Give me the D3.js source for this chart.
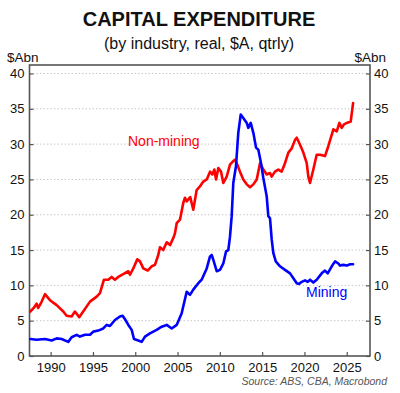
<!DOCTYPE html>
<html>
<head>
<meta charset="utf-8">
<script src="https://cdn.jsdelivr.net/npm/d3@7"></script>
<style>
  html, body { margin: 0; padding: 0; background: #fff; }
  svg { display: block; font-family: "Liberation Sans", Arial, sans-serif; }
</style>
</head>
<body>
<svg id="chart" width="400" height="393"></svg>
<script>
// ---- Data ----
const nonMiningDates = [1987.6, 1988.0, 1988.34, 1988.53, 1988.9, 1989.33, 1989.92, 1990.71, 1991.49, 1991.89, 1992.48, 1992.87, 1993.38, 1993.85, 1994.65, 1995.44, 1995.83, 1996.3, 1996.81, 1997.21, 1997.6, 1997.99, 1998.58, 1999.18, 1999.38, 1999.77, 2000.24, 2000.56, 2000.95, 2001.47, 2001.94, 2002.33, 2002.72, 2002.92, 2003.31, 2003.72, 2004.11, 2004.5, 2004.7, 2004.9, 2005.29, 2005.68, 2005.88, 2006.08, 2006.5, 2006.86, 2007.26, 2007.65, 2008.04, 2008.45, 2008.84, 2009.11, 2009.35, 2009.55, 2009.82, 2010.14, 2010.41, 2010.81, 2011.2, 2011.59, 2011.79, 2012.06, 2012.38, 2012.77, 2013.18, 2013.57, 2013.96, 2014.36, 2014.75, 2015.14, 2015.54, 2015.93, 2016.13, 2016.52, 2016.91, 2017.31, 2017.7, 2018.1, 2018.5, 2018.89, 2019.09, 2019.48, 2019.87, 2020.27, 2020.46, 2020.66, 2021.05, 2021.45, 2021.84, 2022.43, 2022.82, 2023.42, 2023.82, 2024.13, 2024.41, 2024.68, 2025.0, 2025.47, 2025.75];
const nonMiningValues = [6.3, 6.8, 7.4, 6.8, 7.6, 8.75, 7.9, 7.2, 6.3, 5.7, 5.6, 6.3, 5.5, 6.3, 7.7, 8.4, 8.9, 10.8, 10.8, 11.2, 10.8, 11.2, 11.6, 12.0, 11.5, 12.4, 13.7, 13.4, 12.4, 12.1, 12.7, 12.9, 14.3, 15.4, 15.0, 16.1, 15.7, 16.7, 17.4, 18.8, 19.3, 21.7, 22.4, 21.9, 22.5, 20.7, 23.5, 24.0, 24.7, 25.0, 26.1, 25.7, 26.4, 25.0, 26.6, 26.1, 24.5, 25.4, 27.1, 27.6, 27.8, 27.1, 26.1, 25.0, 24.3, 23.9, 24.3, 25.0, 27.3, 26.4, 25.7, 25.9, 25.4, 26.1, 26.4, 26.1, 27.3, 28.8, 29.4, 30.6, 30.9, 29.9, 28.8, 27.3, 25.4, 24.5, 26.4, 28.5, 28.5, 28.3, 29.7, 32.1, 31.8, 33.0, 32.3, 32.8, 33.0, 33.2, 35.8];

const miningDates = [1987.6, 1988.34, 1989.33, 1990.12, 1990.71, 1991.3, 1992.08, 1992.48, 1993.07, 1993.46, 1994.06, 1994.65, 1995.04, 1995.63, 1996.22, 1996.62, 1997.01, 1997.6, 1998.19, 1998.51, 1998.79, 1999.18, 1999.58, 1999.85, 2000.36, 2000.76, 2001.15, 2001.74, 2002.53, 2003.13, 2003.72, 2004.31, 2004.9, 2005.49, 2006.08, 2006.47, 2006.86, 2007.45, 2007.85, 2008.45, 2008.84, 2009.04, 2009.23, 2009.63, 2010.02, 2010.41, 2010.73, 2011.0, 2011.2, 2011.4, 2011.59, 2011.91, 2012.18, 2012.47, 2012.77, 2013.18, 2013.36, 2013.65, 2013.96, 2014.28, 2014.55, 2014.87, 2015.14, 2015.54, 2015.73, 2015.93, 2016.13, 2016.32, 2016.61, 2017.11, 2017.7, 2018.3, 2018.69, 2019.09, 2019.36, 2019.68, 2020.07, 2020.39, 2020.66, 2021.05, 2021.45, 2022.04, 2022.43, 2022.75, 2023.23, 2023.62, 2024.01, 2024.21, 2024.6, 2025.0, 2025.39, 2025.75];
const miningValues = [2.4, 2.3, 2.4, 2.2, 2.5, 2.4, 2.0, 2.65, 3.0, 2.75, 3.0, 3.0, 3.45, 3.6, 3.9, 4.4, 4.25, 5.1, 5.6, 5.7, 5.2, 4.4, 3.7, 2.4, 2.2, 2.0, 2.75, 3.2, 3.7, 4.15, 4.4, 3.9, 4.4, 6.05, 9.1, 8.65, 9.4, 10.3, 10.8, 12.4, 14.1, 14.3, 13.6, 12.0, 12.2, 13.1, 14.8, 15.0, 16.9, 19.8, 24.5, 26.9, 31.6, 34.2, 33.7, 33.0, 32.3, 33.0, 31.6, 29.5, 29.2, 27.3, 25.2, 22.6, 19.8, 19.5, 16.5, 14.6, 13.4, 12.7, 12.2, 11.7, 11.0, 10.3, 10.2, 10.5, 10.7, 10.5, 10.8, 10.4, 10.8, 11.7, 12.1, 11.7, 12.7, 13.4, 13.1, 12.8, 12.9, 12.8, 13.0, 13.0];

const xTickYears = [1990, 1995, 2000, 2005, 2010, 2015, 2020, 2025];
const yTickValues = [0, 5, 10, 15, 20, 25, 30, 35, 40];

const titleText = "CAPITAL EXPENDITURE";
const subtitleText = "(by industry, real, $A, qtrly)";
const unitText = "$Abn";
const sourceText = "Source: ABS, CBA, Macrobond";
const seriesLabels = ["Non-mining", "Mining"];

// ---- Layout ----
const svg = d3.select("#chart");
const pLeft = 29.5, pRight = 370, pTop = 65, pBottom = 356;

const x = d3.scaleLinear().domain([1987.5, 2027.75]).range([pLeft, pRight]);
const y = d3.scaleLinear().domain([0, 41.2]).range([pBottom, pTop]);

const axisColor = "#555";

// Gridlines
svg.append("g").selectAll("line")
  .data(yTickValues.filter(v => v > 0))
  .join("line")
  .attr("x1", pLeft).attr("x2", pRight)
  .attr("y1", d => y(d)).attr("y2", d => y(d))
  .attr("stroke", "#c8c8c8")
  .attr("stroke-width", 1)
  .attr("stroke-dasharray", "1.5,2");

// Axes
const fontTick = "13px";
const yLeft = svg.append("g").attr("transform", `translate(${pLeft},0)`)
  .call(d3.axisLeft(y).tickValues(yTickValues).tickSize(-4).tickPadding(5).tickSizeOuter(0));
const yRight = svg.append("g").attr("transform", `translate(${pRight},0)`)
  .call(d3.axisRight(y).tickValues(yTickValues).tickSize(-4).tickPadding(4).tickSizeOuter(0));
const xAxis = svg.append("g").attr("transform", `translate(0,${pBottom})`)
  .call(d3.axisBottom(x).tickValues(xTickYears).tickFormat(d3.format("d")).tickSize(-4).tickPadding(9).tickSizeOuter(0));

[yLeft, yRight, xAxis].forEach(g => {
  g.select(".domain").remove();
  g.selectAll(".tick line").attr("stroke", axisColor).attr("stroke-width", 1.2);
  g.selectAll(".tick text").attr("fill", "#111").style("font-size", fontTick)
    .style("font-family", '"Liberation Sans", Arial, sans-serif');
});
xAxis.selectAll(".tick text").attr("y", 15.5).attr("dy", "0");

// Frame
svg.append("rect")
  .attr("x", pLeft).attr("y", pTop)
  .attr("width", pRight - pLeft).attr("height", pBottom - pTop)
  .attr("fill", "none").attr("stroke", axisColor).attr("stroke-width", 1.6);

// Lines
const line = d3.line().x(d => x(d[0])).y(d => y(d[1]));
const nonMining = nonMiningDates.map((d, i) => [d, nonMiningValues[i]]);
const mining = miningDates.map((d, i) => [d, miningValues[i]]);

svg.append("path").datum(nonMining)
  .attr("d", line).attr("fill", "none")
  .attr("stroke", "#ff0000").attr("stroke-width", 2.6)
  .attr("stroke-linejoin", "round").attr("stroke-linecap", "round");
svg.append("path").datum(mining)
  .attr("d", line).attr("fill", "none")
  .attr("stroke", "#0000ff").attr("stroke-width", 2.6)
  .attr("stroke-linejoin", "round").attr("stroke-linecap", "round");

// Texts
svg.append("text").attr("x", 199).attr("y", 26).attr("text-anchor", "middle")
  .style("font-size", "20px").style("font-weight", "bold").attr("fill", "#111")
  .text(titleText);
svg.append("text").attr("x", 199).attr("y", 49).attr("text-anchor", "middle")
  .style("font-size", "16px").attr("fill", "#111")
  .text(subtitleText);
svg.append("text").attr("x", 7).attr("y", 62).attr("text-anchor", "start")
  .style("font-size", "13.5px").attr("fill", "#111").text(unitText);
svg.append("text").attr("x", 386).attr("y", 62).attr("text-anchor", "end")
  .style("font-size", "13.5px").attr("fill", "#111").text(unitText);

svg.append("text").attr("x", 128).attr("y", 146)
  .style("font-size", "14px").attr("fill", "#ff0000").text(seriesLabels[0]);
svg.append("text").attr("x", 306).attr("y", 297)
  .style("font-size", "14px").attr("fill", "#0000ff").text(seriesLabels[1]);

svg.append("text").attr("x", 387).attr("y", 385).attr("text-anchor", "end")
  .style("font-size", "10.5px").style("font-style", "italic").attr("fill", "#555")
  .text(sourceText);
</script>
</body>
</html>
